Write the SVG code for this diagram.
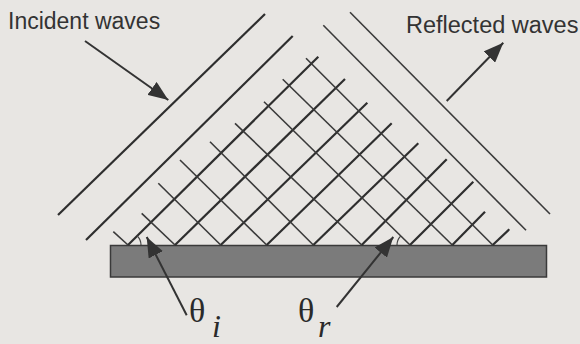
<svg xmlns="http://www.w3.org/2000/svg" width="580" height="344" viewBox="0 0 580 344">
  <style>
    .inc { stroke: #2e2e2e; stroke-width: 2.2; fill: none; }
    .ref { stroke: #3a3a3a; stroke-width: 1.6; fill: none; }
    .arr { stroke: #333; stroke-width: 2; fill: none; }
    .arc { stroke: #444; stroke-width: 1.2; fill: none; }
    .lbl { font-family: "Liberation Sans", Arial, sans-serif; fill: #333; }
    .sym { font-family: "Liberation Serif", "Times New Roman", serif; fill: #2a2a2a; }
  </style>
  <defs>
    <marker id="head" viewBox="0 0 20 16" markerWidth="20" markerHeight="16" refX="20" refY="8" markerUnits="userSpaceOnUse" orient="auto">
      <path d="M0,0 L20,8 L0,16 Z" fill="#333"/>
    </marker>
  </defs>
  <rect width="580" height="344" fill="#e8e6e3"/>

  <g id="plate">
    <rect x="110.5" y="245.5" width="436" height="31.5" fill="#7b7b7b" stroke="#3a3a3a" stroke-width="1.5"/>
  </g>

  <g id="incident-wavefronts">
    <line class="inc" x1="58" y1="215" x2="265" y2="14"/>
    <line class="inc" x1="86" y1="240" x2="292.7" y2="36"/>
    <line class="inc" x1="128" y1="245" x2="318.3" y2="56.7"/>
    <line class="inc" x1="175" y1="245" x2="345" y2="79"/>
    <line class="inc" x1="220.7" y1="245" x2="367.3" y2="102.7"/>
    <line class="inc" x1="266.7" y1="245" x2="391.7" y2="123.3"/>
    <line class="inc" x1="313.3" y1="245" x2="418.3" y2="143.3"/>
    <line class="inc" x1="361.7" y1="245" x2="446.7" y2="159.3"/>
    <line class="inc" x1="410" y1="245" x2="473.3" y2="181.7"/>
    <line class="inc" x1="452.3" y1="245" x2="485" y2="211.7"/>
    <line class="inc" x1="492.7" y1="245" x2="509.3" y2="229.3"/>
  </g>

  <g id="reflected-wavefronts">
    <line class="ref" x1="113.3" y1="231.7" x2="128" y2="245"/>
    <line class="ref" x1="141.7" y1="213.3" x2="175" y2="245"/>
    <line class="ref" x1="158.3" y1="183.3" x2="220.7" y2="245"/>
    <line class="ref" x1="180" y1="160" x2="266.7" y2="245"/>
    <line class="ref" x1="210" y1="141.7" x2="313.3" y2="245"/>
    <line class="ref" x1="235" y1="123.3" x2="361.7" y2="245"/>
    <line class="ref" x1="264" y1="101.7" x2="410" y2="245"/>
    <line class="ref" x1="282.7" y1="79.3" x2="452.3" y2="245"/>
    <line class="ref" x1="306" y1="58.3" x2="492.7" y2="245"/>
    <line class="ref" x1="323.3" y1="25.3" x2="526" y2="230.3"/>
    <line class="ref" x1="350" y1="12.3" x2="550" y2="214"/>
  </g>

  <g id="angle-arcs">
    <path class="arc" d="M137.2,235.8 A13,13 0 0 1 141,245"/>
    <path class="arc" d="M397,245 A13,13 0 0 1 400.8,235.8"/>
  </g>

  <g id="connectors">
    <line class="arr" x1="85" y1="41" x2="168.3" y2="100" marker-end="url(#head)"/>
    <line class="arr" x1="446.7" y1="101" x2="503.3" y2="42.7" marker-end="url(#head)"/>
    <line class="arr" x1="186.7" y1="315.3" x2="146.7" y2="237" marker-end="url(#head)"/>
    <line class="arr" x1="336.7" y1="307" x2="393.3" y2="237" marker-end="url(#head)"/>
  </g>

  <g id="label-incident">
    <text class="lbl" x="8" y="28.5" font-size="23">Incident waves</text>
  </g>
  <g id="label-reflected">
    <text class="lbl" x="406" y="32.5" font-size="23.5">Reflected waves</text>
  </g>
  <g id="label-theta-i">
    <text class="sym" x="189" y="322" font-size="34">θ</text>
    <text class="sym" x="212" y="337" font-size="32" font-style="italic">i</text>
  </g>
  <g id="label-theta-r">
    <text class="sym" x="298" y="322" font-size="34">θ</text>
    <text class="sym" x="318" y="337" font-size="32" font-style="italic">r</text>
  </g>
</svg>
